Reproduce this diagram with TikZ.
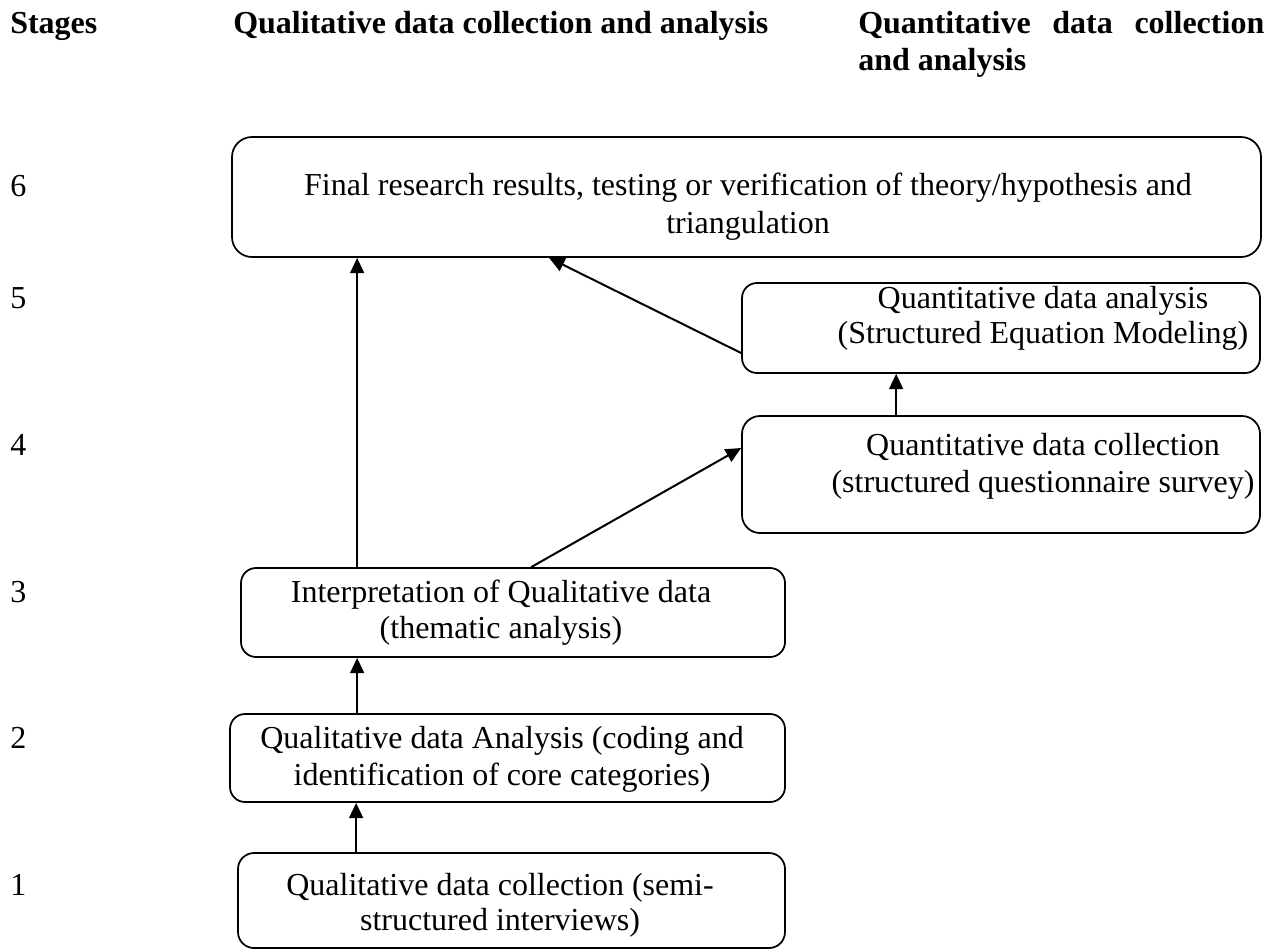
\documentclass[tikz,border=0pt]{standalone}
\usepackage{fontspec}
\setmainfont{Liberation Serif}
\usetikzlibrary{arrows.meta,calc}
\begin{document}
\begin{tikzpicture}[x=0.75pt,y=-0.75pt,
  box/.style={draw, line width=1.3pt, inner sep=0pt},
  txt/.style={anchor=base, inner sep=0pt, font=\fontsize{24}{27}\selectfont},
  hdr/.style={anchor=base west, inner sep=0pt, font=\fontsize{24}{27}\selectfont\bfseries},
  stg/.style={anchor=base west, inner sep=0pt, font=\fontsize{24}{27}\selectfont},
  arr/.style={line width=1.5pt, -{Triangle[length=11.5pt,width=10.5pt]}}]
\useasboundingbox (0,0) rectangle (1277,951);

% headers
\node[hdr] (h1) at (10,33) {Stages};
\node[hdr] (h2) at (233,33) {Qualitative data collection and analysis};
\node[hdr] (h3) at (858,33) {\hbox to 304.5pt{Quantitative\hfill data\hfill collection}};
\node[hdr] (h4) at (858,70) {and analysis};

% stage numbers
\node[stg] (s6) at (10,196) {6};
\node[stg] (s5) at (10,308) {5};
\node[stg] (s4) at (10,455) {4};
\node[stg] (s3) at (10,602) {3};
\node[stg] (s2) at (10,748) {2};
\node[stg] (s1) at (10,895) {1};

% boxes
\node[box, rounded corners=15pt, minimum width=771.75pt, minimum height=90pt] (b6) at (746.5,197) {};
\node[box, rounded corners=11.25pt, minimum width=388.5pt, minimum height=67.5pt] (b5) at (1001,328) {};
\node[box, rounded corners=13.5pt, minimum width=388.5pt, minimum height=87.75pt] (b4) at (1001,474.5) {};
\node[box, rounded corners=11.25pt, minimum width=408pt, minimum height=66.75pt] (b3) at (513,612.5) {};
\node[box, rounded corners=11.25pt, minimum width=416.25pt, minimum height=66pt] (b2) at (507.5,758) {};
\node[box, rounded corners=12pt, minimum width=410.25pt, minimum height=71.25pt] (b1) at (511.5,900.5) {};

% box texts
\node[txt] (t6a) at (748,195) {Final research results, testing or verification of theory/hypothesis and};
\node[txt] (t6b) at (748,233) {triangulation};
\node[txt] (t5a) at (1043,308) {Quantitative data analysis};
\node[txt] (t5b) at (1043,343) {(Structured Equation Modeling)};
\node[txt] (t4a) at (1043,455) {Quantitative data collection};
\node[txt] (t4b) at (1043,492) {(structured questionnaire survey)};
\node[txt] (t3a) at (501,602) {Interpretation of Qualitative data};
\node[txt] (t3b) at (501,638) {(thematic analysis)};
\node[txt] (t2a) at (502,748) {Qualitative data Analysis (coding and};
\node[txt] (t2b) at (502,785) {identification of core categories)};
\node[txt] (t1a) at (500,895) {Qualitative data collection (semi-};
\node[txt] (t1b) at (500,930) {structured interviews)};

% connectors
\draw[arr] ($(b3.north west)+(117,0)$) -- ($(b6.south west)+(126,0)$);
\draw[arr] ($(b5.west)+(0,25)$) -- ($(b6.south west)+(318,0)$);
\draw[arr] ($(b3.north west)+(291,0)$) -- ($(b4.west)+(0,-26.5)$);
\draw[arr] ($(b4.north west)+(155,0)$) -- ($(b5.south west)+(155,0)$);
\draw[arr] ($(b2.north west)+(128,0)$) -- ($(b3.south west)+(117,0)$);
\draw[arr] ($(b1.north west)+(119,0)$) -- ($(b2.south west)+(127,0)$);
\end{tikzpicture}
\end{document}
